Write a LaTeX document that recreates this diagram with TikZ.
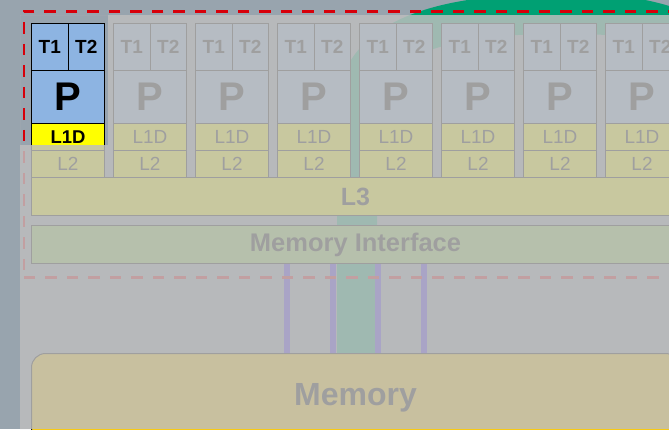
\documentclass[tikz,border=0pt]{standalone}
\usepackage{fontspec}
\setsansfont{Liberation Sans}
\usetikzlibrary{positioning}

\definecolor{slatebg}{RGB}{152,164,174}
\definecolor{coreblue}{RGB}{141,180,226}
\definecolor{cacheyellow}{RGB}{255,255,0}
\definecolor{ifgreen}{RGB}{146,208,80}
\definecolor{memgold}{RGB}{255,204,0}
\definecolor{busviolet}{RGB}{60,30,240}
\definecolor{flowgreen}{RGB}{0,160,115}
\definecolor{focusred}{RGB}{215,0,10}
\definecolor{veil}{RGB}{190,190,190}

\begin{document}
\begin{tikzpicture}[
    x=1pt, y=-1pt,
    block/.style={draw=black, line width=1pt, inner sep=0pt, anchor=north west, font=\sffamily\bfseries},
    thread/.style={block, fill=coreblue, minimum width=36.5pt, minimum height=47pt, font=\sffamily\bfseries\fontsize{19}{19}\selectfont},
    proc/.style={block, fill=coreblue, minimum width=73pt, minimum height=53pt, font=\sffamily\bfseries\fontsize{40}{40}\selectfont},
    cache/.style={block, fill=cacheyellow, minimum width=73pt, minimum height=27pt, font=\sffamily\fontsize{19}{19}\selectfont},
    wide/.style={block, minimum width=648pt, minimum height=38pt},
    bus/.style={busviolet, line width=6pt},
    focus/.style={draw=focusred, line width=2.5pt, dash pattern=on 11.5pt off 10pt, anchor=north west, inner sep=0pt}
]
\useasboundingbox (0,0) rectangle (669,429);
\fill[slatebg] (0,0) rectangle (669,429);

% data path behind the chip
\draw[flowgreen, line width=40pt] (740,60) .. controls (660,12) and (610,14) .. (555,14)
    .. controls (450,14) and (357,35) .. (357,110) -- (357,353);

% Highlighted core
\node[thread] (T1-0) at (31,23) {T1};
\node[thread] (T2-0) at (67.5,23) {T2};
\node[proc] (P-0) at (31,70) {P};
\node[cache, font=\sffamily\bfseries\fontsize{18.5}{18.5}\selectfont] (L1D-0) at (31,123) {L1D};
\node[cache] (L2-0) at (31,150) {L2};

% Other cores
\foreach \i [evaluate=\i as \cx using 31+82*\i] in {1,...,7} {
    \node[thread] (T1-\i) at (\cx,23) {T1};
    \node[thread] (T2-\i) at (\cx+36.5,23) {T2};
    \node[proc] (P-\i) at (\cx,70) {P};
    \node[cache] (L1D-\i) at (\cx,123) {L1D};
    \node[cache] (L2-\i) at (\cx,150) {L2};
}

% Shared levels
\node[wide, fill=cacheyellow, font=\sffamily\bfseries\fontsize{25}{25}\selectfont] (L3) at (31,177) {L3};
\node[wide, fill=ifgreen, font=\sffamily\bfseries\fontsize{25.5}{25.5}\selectfont] (MI) at (31,225) {Memory Interface};
\node[wide, fill=memgold, rounded corners=14pt, minimum height=88pt, font=\sffamily\bfseries\fontsize{32}{32}\selectfont] (Mem) at (31,353) {Memory};

% Memory channels
\coordinate (b1) at (287,0);
\coordinate (b2) at (333,0);
\coordinate (b3) at (378,0);
\coordinate (b4) at (424,0);
\draw[bus] (b1 |- MI.south) -- (b1 |- Mem.north);
\draw[bus] (b2 |- MI.south) -- (b2 |- Mem.north);
\draw[bus] (b3 |- MI.south) -- (b3 |- Mem.north);
\draw[bus] (b4 |- MI.south) -- (b4 |- Mem.north);

% Chip boundary
\node[focus, minimum width=700pt, minimum height=266pt] (chip) at (22.5,10) {};

% Fade everything but the first core
\fill[veil, opacity=0.84, even odd rule] (20,15) rectangle (669,429) (20,15) rectangle (108,145);

\end{tikzpicture}
\end{document}
